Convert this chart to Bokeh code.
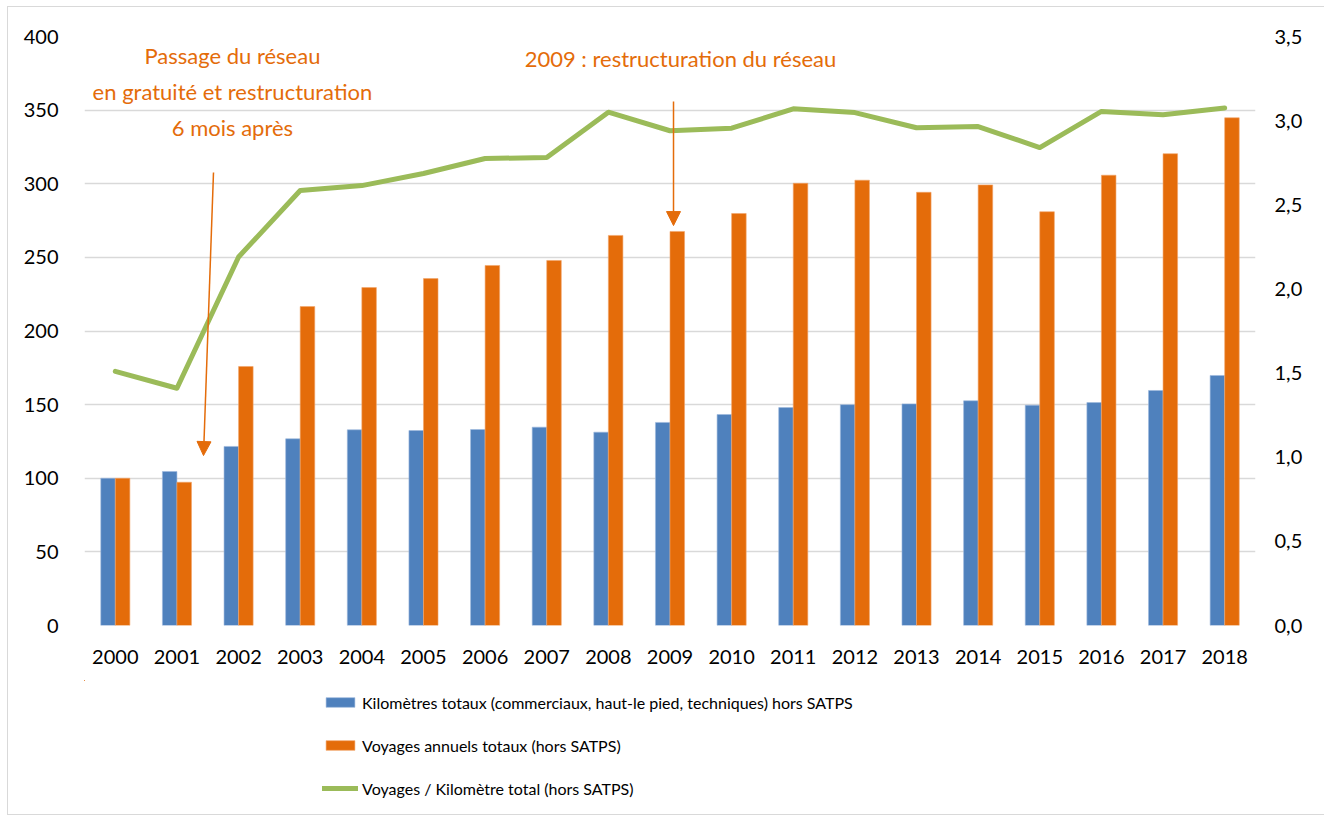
from bokeh.plotting import figure
from bokeh.layouts import column
from bokeh.models import (Range1d, LinearAxis, FixedTicker, CustomJSTickFormatter,
                          Legend, LegendItem, Arrow, NormalHead, Label, ColumnDataSource)
from bokeh.embed import file_html
from bokeh.resources import INLINE

years = [str(y) for y in range(2000, 2019)]
km_totaux = [100, 104.6, 121.6, 126.8, 132.9, 132.4, 133.1, 134.7, 131.3, 137.9,
             143.3, 148.0, 150.0, 150.5, 152.6, 149.6, 151.4, 159.6, 169.8]
voyages = [100, 97.3, 175.9, 216.6, 229.5, 235.6, 244.5, 247.9, 264.9, 267.6,
           279.8, 300.3, 302.4, 294.2, 299.2, 281.0, 305.8, 320.4, 344.8]
voy_par_km = [1.51, 1.41, 2.19, 2.585, 2.614, 2.686, 2.775, 2.781, 3.05, 2.94,
              2.955, 3.07, 3.048, 2.958, 2.965, 2.84, 3.055, 3.035, 3.075]
left_ticks = [0, 50, 100, 150, 200, 250, 300, 350, 400]
right_ticks = [0, 0.5, 1.0, 1.5, 2.0, 2.5, 3.0, 3.5]

label_km = "Kilomètres totaux (commerciaux, haut-le pied, techniques) hors SATPS"
label_voy = "Voyages annuels totaux (hors SATPS)"
label_ratio = "Voyages / Kilomètre total (hors SATPS)"

ann1_lines = ["Passage du réseau", "en gratuité et restructuration", "6 mois après"]
ann2_text = "2009 : restructuration du réseau"

BLUE = "#4F81BD"
ORANGE = "#E46C0A"
GREEN = "#9BBB59"
FONT = "Lato"

idx = list(range(len(years)))
bw = 0.236
data = dict(
    x=idx,
    xb=[i - bw / 2 for i in idx],
    xo=[i + bw / 2 for i in idx],
    km=km_totaux, voy=voyages, r=voy_par_km)
src = ColumnDataSource(data=dict(data))

p = figure(frame_width=1171, frame_height=589,
           min_border_left=76, min_border_right=69, min_border_top=29, min_border_bottom=55,
           x_range=Range1d(-0.5, len(years) - 0.5), y_range=Range1d(0, 400),
           output_backend="svg", toolbar_location=None, tools="",
           background_fill_color="white", border_fill_color="white")
p.outline_line_color = None
p.extra_y_ranges = {"right": Range1d(0, 3.5)}

# grid
p.xgrid.grid_line_color = None
p.ygrid.grid_line_color = "#D9D9D9"
p.ygrid.grid_line_width = 1.3
p.yaxis.ticker = FixedTicker(ticks=left_ticks)

r_km = p.vbar(x="xb", top="km", width=bw, source=src, fill_color=BLUE, line_color="#9DB9DD", line_width=0.6)
r_voy = p.vbar(x="xo", top="voy", width=bw, source=src, fill_color=ORANGE, line_color="#F2A46A", line_width=0.6)
r_line = p.line(x="x", y="r", source=src, y_range_name="right", line_color=GREEN,
                line_width=5, line_cap="round", line_join="round")

# axes
for ax in [p.xaxis[0], p.yaxis[0]]:
    ax.axis_line_color = None
    ax.major_tick_line_color = None
    ax.minor_tick_line_color = None
    ax.major_label_text_font = FONT
    ax.major_label_text_font_size = "20px"
    ax.major_label_text_color = "#000000"
p.yaxis[0].major_label_standoff = 20
p.xaxis[0].major_label_standoff = 18
p.xaxis[0].ticker = FixedTicker(ticks=idx)
p.xaxis[0].major_label_overrides = {i: y for i, y in zip(idx, years)}

ax_r = LinearAxis(y_range_name="right", ticker=FixedTicker(ticks=right_ticks),
                  formatter=CustomJSTickFormatter(code="return tick.toFixed(1).replace('.', ',');"))
ax_r.axis_line_color = None
ax_r.major_tick_line_color = None
ax_r.minor_tick_line_color = None
ax_r.major_label_text_font = FONT
ax_r.major_label_text_font_size = "20px"
ax_r.major_label_text_color = "#000000"
ax_r.major_label_standoff = 13
p.add_layout(ax_r, "right")

# annotations
p.add_layout(Arrow(end=NormalHead(size=14, fill_color=ORANGE, line_color=ORANGE),
                   x_start=1.593, y_start=307.6, x_end=1.431, y_end=115.4,
                   line_color=ORANGE, line_width=1.5))
p.add_layout(Arrow(end=NormalHead(size=14, fill_color=ORANGE, line_color=ORANGE),
                   x_start=9.057, y_start=355.9, x_end=9.057, y_end=271.6,
                   line_color=ORANGE, line_width=1.5))
for txt, yv in zip(ann1_lines, [387.1, 362.7, 338.2]):
    p.add_layout(Label(x=1.90, y=yv, text=txt, text_align="center", text_baseline="middle",
                       text_font=FONT, text_font_size="22px", text_color=ORANGE))
p.add_layout(Label(x=9.17, y=385.0, text=ann2_text, text_align="center", text_baseline="middle",
                   text_font=FONT, text_font_size="22px", text_color=ORANGE))

# legend figure below the chart (its series sit outside its visible ranges; only the legend shows)
lsrc = ColumnDataSource(data=dict(data))
lf = figure(width=1316, height=134, min_border=0,
            x_range=Range1d(100, 101), y_range=Range1d(-2, -1),
            output_backend="svg", toolbar_location=None, tools="",
            background_fill_color="white", border_fill_color="white")
lf.outline_line_color = None
lf.axis.visible = False
lf.grid.visible = False
l_km = lf.vbar(x="xb", top="km", width=bw, source=lsrc, fill_color=BLUE, line_color="#9DB9DD", line_width=0.6)
l_voy = lf.vbar(x="xo", top="voy", width=bw, source=lsrc, fill_color=ORANGE, line_color="#F2A46A", line_width=0.6)
l_line = lf.line(x="x", y="r", source=lsrc, line_color=GREEN, line_width=5, line_cap="round")

legend = Legend(items=[LegendItem(label=label_km, renderers=[l_km]),
                       LegendItem(label=label_voy, renderers=[l_voy]),
                       LegendItem(label=label_ratio, renderers=[l_line])],
                location=(238, 16), orientation="vertical",
                glyph_width=36, glyph_height=12, label_height=20, spacing=23,
                label_standoff=4, padding=0, margin=0,
                border_line_color=None, background_fill_alpha=0,
                label_text_font=FONT, label_text_font_size="16px", label_text_color="#000000")
lf.add_layout(legend, "center")

layout = column(p, lf, spacing=0)
layout.styles = {"border": "1px solid #D9D9D9", "margin-left": "7px", "margin-top": "6px"}

open("out.html", "w").write(file_html(layout, INLINE))
